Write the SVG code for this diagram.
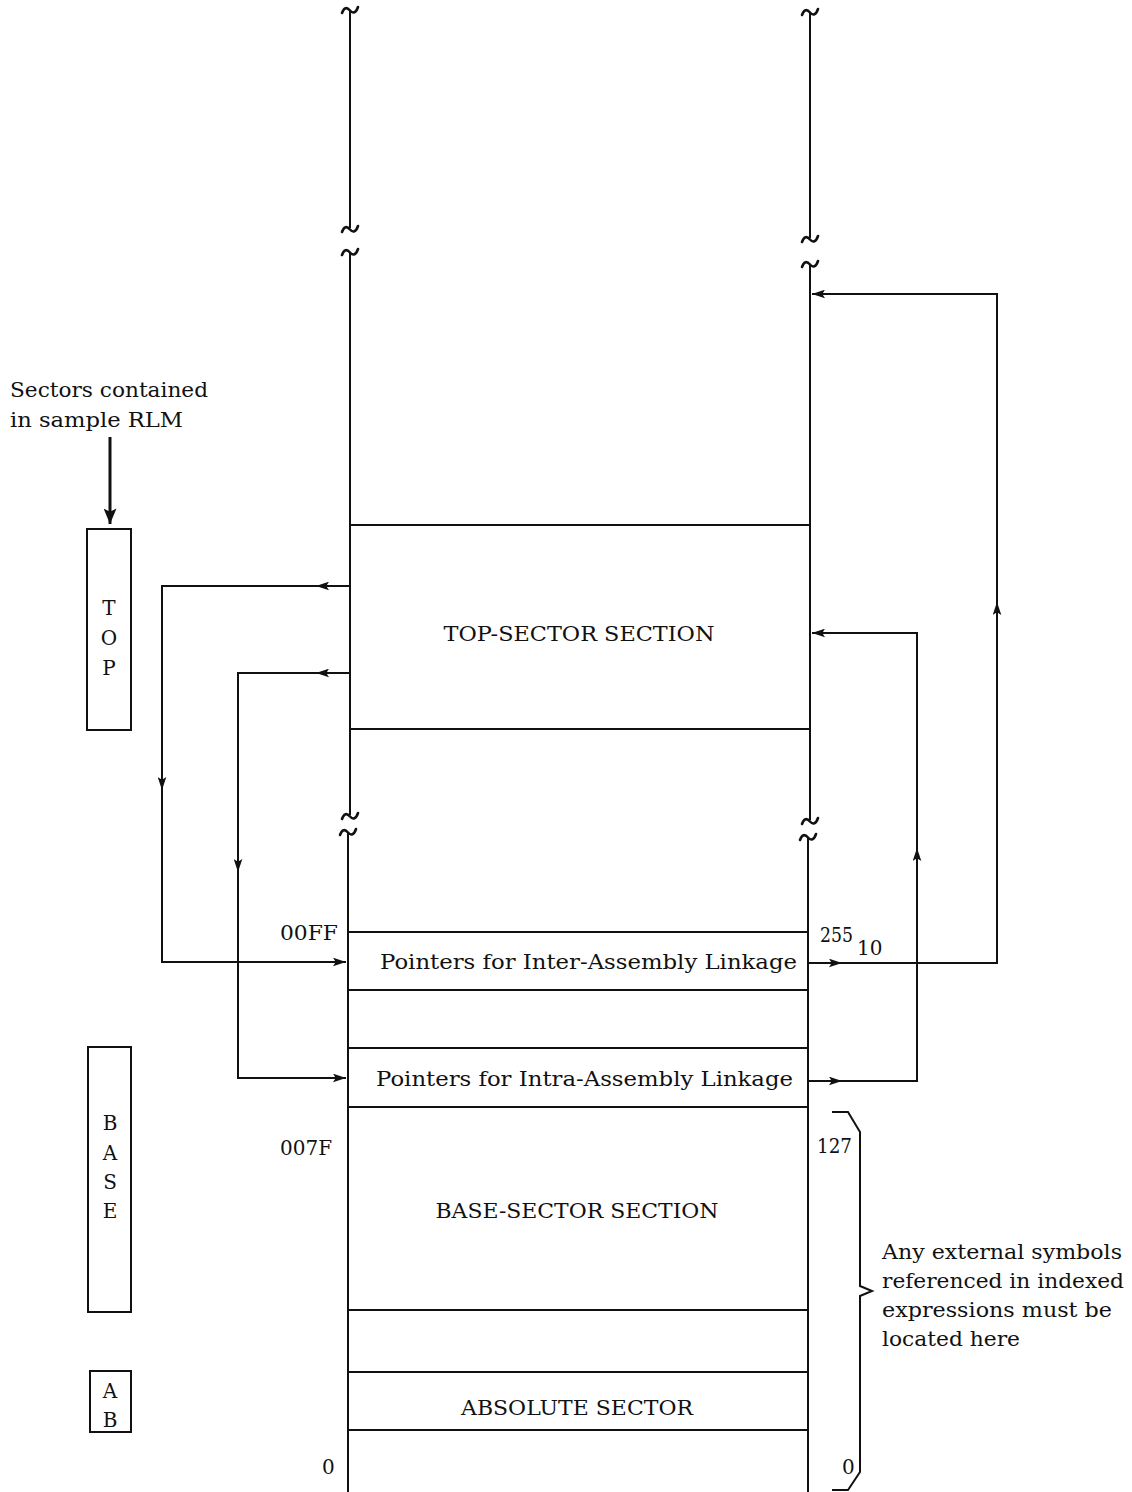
<svg xmlns="http://www.w3.org/2000/svg" width="1132" height="1492" viewBox="0 0 1132 1492">
<style>
.ln{stroke:#111;stroke-width:2;fill:none}
.thick{stroke:#111;stroke-width:3;fill:none}
.sq{stroke:#111;stroke-width:2.6;fill:none;stroke-linecap:round}
text{font-family:"DejaVu Serif","Liberation Serif",serif;font-size:20px;fill:#111}
.c{text-anchor:middle}
.r{text-anchor:end}
</style>
<defs>
<marker id="ah" viewBox="0 0 12 8" refX="12" refY="4" markerWidth="13" markerHeight="9" markerUnits="userSpaceOnUse" orient="auto">
<path d="M0,0 L12,4 L0,8 L2.5,4 Z" fill="#111"/>
</marker>
<marker id="ahBig" viewBox="0 0 12 10" refX="12" refY="5" markerWidth="16" markerHeight="13" markerUnits="userSpaceOnUse" orient="auto">
<path d="M0,0 L12,5 L0,10 L2.5,5 Z" fill="#111"/>
</marker>
<path id="sqTop" d="M-8,5 C-6,-1 -3,-1 0,2.5 C3,6 6,5 8,-1"/>
<path id="sqBot" d="M-8,1 C-6,-5 -3,-5 0,-1.5 C3,2 6,1 8,-5"/>
</defs>

<g id="memory-columns">
<line class="ln" x1="350" y1="10" x2="350" y2="228"/>
<line class="ln" x1="350" y1="252" x2="350" y2="815"/>
<line class="ln" x1="348" y1="832" x2="348" y2="1492"/>
<line class="ln" x1="810" y1="12" x2="810" y2="238"/>
<line class="ln" x1="810" y1="264" x2="810" y2="820"/>
<line class="ln" x1="808" y1="837" x2="808" y2="1492"/>
<use href="#sqTop" class="sq" x="350" y="8"/>
<use href="#sqBot" class="sq" x="350" y="231"/>
<use href="#sqTop" class="sq" x="350" y="250"/>
<use href="#sqBot" class="sq" x="350" y="818"/>
<use href="#sqTop" class="sq" x="348" y="830"/>
<use href="#sqTop" class="sq" x="810" y="10"/>
<use href="#sqBot" class="sq" x="810" y="241"/>
<use href="#sqTop" class="sq" x="810" y="262"/>
<use href="#sqBot" class="sq" x="810" y="823"/>
<use href="#sqTop" class="sq" x="808" y="835"/>
</g>

<g id="top-sector">
<line class="ln" x1="350" y1="525" x2="810" y2="525"/>
<line class="ln" x1="350" y1="729" x2="810" y2="729"/>
<text class="c" x="579" y="641" textLength="271" lengthAdjust="spacingAndGlyphs">TOP-SECTOR SECTION</text>
</g>

<g id="inter-pointers">
<line class="ln" x1="348" y1="932" x2="808" y2="932"/>
<line class="ln" x1="348" y1="990" x2="808" y2="990"/>
<text x="380" y="969" textLength="417" lengthAdjust="spacingAndGlyphs">Pointers for Inter-Assembly Linkage</text>
<text x="280" y="940" textLength="58" lengthAdjust="spacingAndGlyphs">00FF</text>
<text x="820" y="942" textLength="33" lengthAdjust="spacingAndGlyphs">255</text>
<text x="857" y="955">10</text>
</g>

<g id="gap-1">
<line class="ln" x1="348" y1="1048" x2="808" y2="1048"/>
</g>

<g id="intra-pointers">
<line class="ln" x1="348" y1="1107" x2="808" y2="1107"/>
<text x="376" y="1086" textLength="417" lengthAdjust="spacingAndGlyphs">Pointers for Intra-Assembly Linkage</text>
</g>

<g id="base-sector">
<line class="ln" x1="348" y1="1310" x2="808" y2="1310"/>
<text class="c" x="577" y="1218" textLength="283" lengthAdjust="spacingAndGlyphs">BASE-SECTOR SECTION</text>
<text x="280" y="1155" textLength="52" lengthAdjust="spacingAndGlyphs">007F</text>
<text x="817" y="1153" textLength="35" lengthAdjust="spacingAndGlyphs">127</text>
</g>

<g id="gap-2">
<line class="ln" x1="348" y1="1372" x2="808" y2="1372"/>
</g>

<g id="absolute-sector">
<line class="ln" x1="348" y1="1430" x2="808" y2="1430"/>
<text class="c" x="577" y="1415" textLength="232" lengthAdjust="spacingAndGlyphs">ABSOLUTE SECTOR</text>
<text x="322" y="1474">0</text>
<text x="842" y="1474">0</text>
</g>

<g id="brace">
<path class="ln" d="M832,1112 L848,1112 L860,1132 L860,1286 L872,1291 L860,1296 L860,1472 L848,1490 L832,1490"/>
<text x="882" y="1259" textLength="240" lengthAdjust="spacingAndGlyphs">Any external symbols</text>
<text x="882" y="1288" textLength="242" lengthAdjust="spacingAndGlyphs">referenced in indexed</text>
<text x="882" y="1317" textLength="230" lengthAdjust="spacingAndGlyphs">expressions must be</text>
<text x="882" y="1346" textLength="138" lengthAdjust="spacingAndGlyphs">located here</text>
</g>

<g id="legend-note">
<text x="10" y="397" textLength="198" lengthAdjust="spacingAndGlyphs">Sectors contained</text>
<text x="10" y="427" textLength="173" lengthAdjust="spacingAndGlyphs">in sample RLM</text>
</g>

<g id="legend-top">
<rect class="ln" x="87" y="529" width="44" height="201"/>
<text class="c" x="109" y="615">T</text>
<text class="c" x="109" y="645">O</text>
<text class="c" x="109" y="675">P</text>
</g>

<g id="legend-base">
<rect class="ln" x="88" y="1047" width="43" height="265"/>
<text class="c" x="110" y="1130">B</text>
<text class="c" x="110" y="1160">A</text>
<text class="c" x="110" y="1189">S</text>
<text class="c" x="110" y="1218">E</text>
</g>

<g id="legend-ab">
<rect class="ln" x="90" y="1371" width="41" height="61"/>
<text class="c" x="110" y="1398">A</text>
<text class="c" x="110" y="1427">B</text>
</g>

<g id="connectors">
<line class="thick" x1="110" y1="437" x2="110" y2="524" marker-end="url(#ahBig)"/>
<line class="ln" x1="350" y1="586" x2="316" y2="586" marker-end="url(#ah)"/>
<polyline class="ln" points="316,586 162,586 162,790"/>
<line class="ln" x1="162" y1="770" x2="162" y2="790" marker-end="url(#ah)"/>
<polyline class="ln" points="162,790 162,962 346,962" marker-end="url(#ah)"/>
<line class="ln" x1="350" y1="673" x2="316" y2="673" marker-end="url(#ah)"/>
<polyline class="ln" points="316,673 238,673 238,872"/>
<line class="ln" x1="238" y1="850" x2="238" y2="872" marker-end="url(#ah)"/>
<polyline class="ln" points="238,872 238,1078 346,1078" marker-end="url(#ah)"/>
<line class="ln" x1="808" y1="963" x2="842" y2="963" marker-end="url(#ah)"/>
<polyline class="ln" points="842,963 997,963 997,602"/>
<line class="ln" x1="997" y1="622" x2="997" y2="602" marker-end="url(#ah)"/>
<polyline class="ln" points="997,602 997,294 812,294" marker-end="url(#ah)"/>
<line class="ln" x1="808" y1="1081" x2="842" y2="1081" marker-end="url(#ah)"/>
<polyline class="ln" points="842,1081 917,1081 917,848"/>
<line class="ln" x1="917" y1="868" x2="917" y2="848" marker-end="url(#ah)"/>
<polyline class="ln" points="917,848 917,633 812,633" marker-end="url(#ah)"/>
</g>
</svg>
